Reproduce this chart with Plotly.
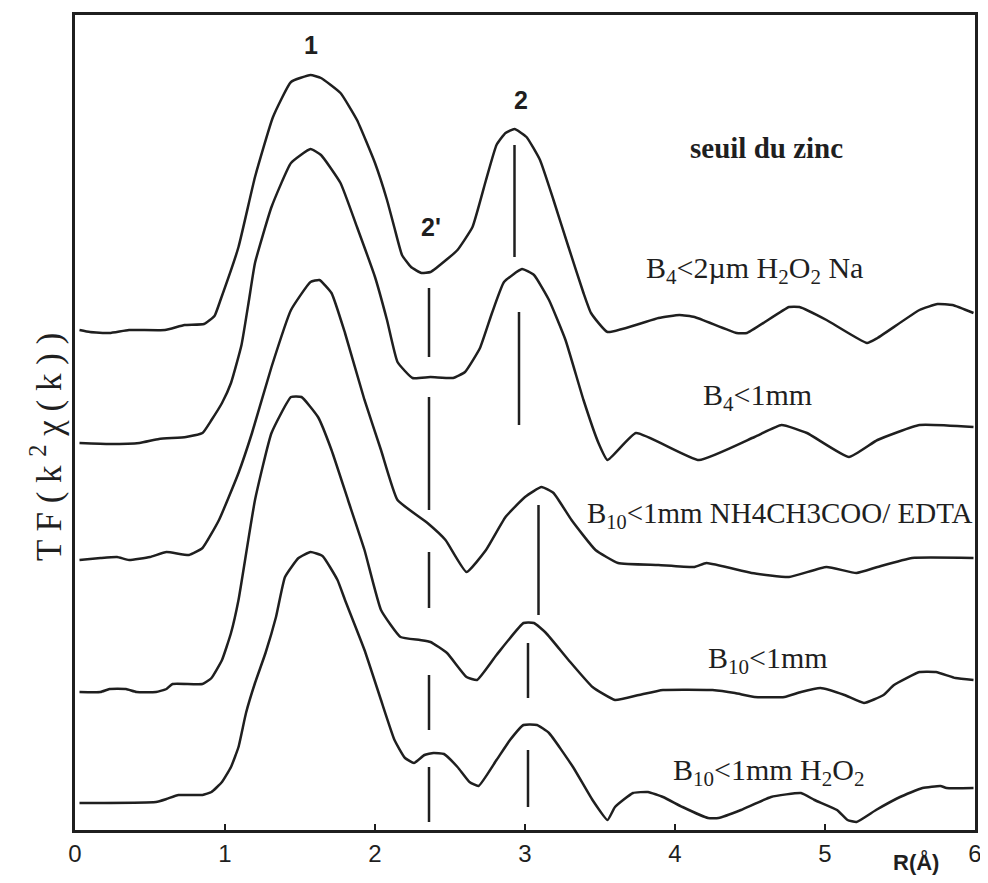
import plotly.graph_objects as go

# ---- Data (R in Å, TF in arbitrary stacked units) ----
r_b4_h2o2_na = [0.03, 0.10, 0.23, 0.36, 0.60, 0.73, 0.86, 0.93, 0.97, 1.09, 1.20, 1.32, 1.44, 1.57, 1.64,
                1.77, 1.88, 2.00, 2.08, 2.13, 2.18, 2.24, 2.31, 2.37, 2.49, 2.55, 2.65, 2.74, 2.81, 2.87,
                2.93, 3.01, 3.10, 3.19, 3.29, 3.39, 3.44, 3.55, 3.89, 4.03, 4.13, 4.41, 4.48, 4.76, 4.83,
                5.01, 5.28, 5.35, 5.63, 5.75, 5.85, 5.99]
tf_b4_h2o2_na = [50.0, 49.8, 49.7, 50.0, 50.0, 50.5, 50.6, 51.4, 53.0, 58.3, 65.3, 71.3, 74.8, 75.5, 75.2,
                 73.7, 71.0, 66.7, 63.0, 60.2, 57.5, 56.3, 55.7, 55.8, 57.2, 58.0, 60.3, 65.0, 68.5, 69.7,
                 70.1, 69.3, 67.0, 63.0, 58.3, 53.7, 51.7, 49.8, 51.2, 51.5, 51.3, 49.7, 49.7, 52.3, 52.3,
                 51.0, 48.7, 49.2, 52.0, 52.6, 52.5, 51.7]

r_b4_1mm = [0.03, 0.23, 0.43, 0.56, 0.74, 0.85, 0.91, 0.98, 1.04, 1.11, 1.16, 1.20, 1.31, 1.44, 1.57,
            1.64, 1.77, 1.88, 2.00, 2.08, 2.15, 2.25, 2.37, 2.52, 2.60, 2.70, 2.78, 2.86, 2.98, 3.06,
            3.16, 3.27, 3.39, 3.49, 3.55, 3.74, 4.16, 4.53, 4.71, 4.88, 5.16, 5.35, 5.63, 5.99]
tf_b4_1mm = [38.7, 38.6, 38.7, 39.1, 39.3, 39.7, 41.0, 42.7, 44.7, 48.5, 53.0, 56.7, 62.3, 66.7, 68.1,
             67.5, 64.7, 60.3, 55.3, 51.0, 46.8, 45.2, 45.3, 45.2, 45.8, 48.2, 51.7, 54.8, 56.1, 55.5,
             53.0, 49.0, 43.0, 38.7, 37.0, 39.7, 37.0, 39.3, 40.5, 39.7, 37.3, 39.0, 40.5, 40.3]

r_b10_edta = [0.03, 0.17, 0.28, 0.36, 0.50, 0.61, 0.76, 0.85, 0.96, 1.09, 1.18, 1.31, 1.44, 1.57, 1.63,
              1.71, 1.80, 1.93, 2.04, 2.15, 2.35, 2.47, 2.61, 2.74, 2.87, 3.00, 3.11, 3.19, 3.31, 3.47,
              3.62, 3.89, 4.13, 4.21, 4.51, 4.76, 5.01, 5.21, 5.35, 5.58, 5.99]
tf_b10_edta = [27.0, 27.2, 27.3, 27.0, 27.3, 27.8, 27.5, 28.2, 31.0, 35.7, 39.7, 46.3, 52.0, 54.8, 55.0,
               53.7, 49.7, 43.0, 38.0, 33.0, 30.7, 29.0, 25.8, 28.0, 31.3, 33.3, 34.3, 33.7, 31.0, 28.0,
               26.7, 26.5, 26.3, 26.7, 25.7, 25.3, 26.3, 25.7, 26.3, 27.2, 27.2]

r_b10_1mm = [0.03, 0.17, 0.23, 0.34, 0.41, 0.54, 0.61, 0.65, 0.85, 0.91, 0.98, 1.04, 1.09, 1.20, 1.31,
             1.44, 1.51, 1.62, 1.71, 1.82, 1.93, 2.04, 2.17, 2.30, 2.37, 2.48, 2.61, 2.68, 2.81, 2.99,
             3.06, 3.14, 3.29, 3.45, 3.60, 3.76, 3.92, 4.25, 4.40, 4.53, 4.73, 4.84, 4.97, 5.13, 5.26,
             5.39, 5.46, 5.63, 5.74, 5.87, 5.99]
tf_b10_1mm = [13.8, 13.8, 14.1, 14.1, 13.8, 13.8, 14.1, 14.6, 14.6, 15.2, 17.0, 19.7, 23.0, 33.0, 39.7,
              43.3, 43.3, 41.3, 38.0, 33.0, 28.0, 22.0, 19.3, 19.0, 18.8, 17.7, 15.3, 15.0, 17.5, 20.7,
              20.7, 19.7, 17.0, 14.3, 13.0, 13.5, 14.0, 14.0, 13.7, 13.3, 13.3, 13.8, 14.2, 13.5, 12.7,
              13.5, 14.5, 15.8, 15.8, 15.2, 15.0]

r_b10_h2o2 = [0.03, 0.54, 0.61, 0.69, 0.85, 0.91, 0.98, 1.04, 1.09, 1.14, 1.20, 1.27, 1.34, 1.40, 1.49,
              1.57, 1.65, 1.75, 1.80, 1.93, 2.04, 2.13, 2.20, 2.26, 2.33, 2.39, 2.46, 2.55, 2.63, 2.69,
              2.81, 2.90, 2.99, 3.08, 3.16, 3.32, 3.45, 3.55, 3.60, 3.72, 3.82, 3.92, 4.05, 4.22, 4.29,
              4.44, 4.64, 4.84, 4.93, 5.08, 5.15, 5.21, 5.34, 5.50, 5.65, 5.77, 5.81, 5.99]
tf_b10_h2o2 = [2.7, 2.8, 3.1, 3.5, 3.5, 3.8, 4.8, 6.3, 8.3, 11.7, 14.7, 17.7, 21.3, 25.3, 27.2,
               27.8, 27.4, 25.0, 23.0, 18.0, 13.0, 9.0, 7.2, 6.7, 7.5, 7.7, 7.6, 6.3, 4.8, 4.4,
               7.0, 9.0, 10.5, 10.5, 9.7, 6.3, 3.0, 1.0, 2.3, 3.7, 3.8, 3.3, 2.3, 1.2, 1.2,
               2.0, 3.3, 3.7, 3.0, 2.0, 1.0, 0.8, 2.0, 3.3, 4.2, 4.4, 4.2, 4.2]

# Peak-position marker lines
dash_r = 2.36
dash_segments = [(54.2, 47.3), (43.3, 32.0), (27.8, 22.2), (15.5, 10.0), (6.3, 0.8)]
solid_r = [2.93, 2.96, 3.09, 3.02, 3.02]
solid_segments = [(68.5, 57.3), (51.8, 40.5), (32.5, 21.5), (18.7, 13.2), (8.0, 2.3)]

x_ticks = [0, 1, 2, 3, 4, 5, 6]

INK = "#1f1f1f"
SERIF = "Liberation Serif, Times New Roman, serif"
SANS = "Liberation Sans, Arial, sans-serif"

fig = go.Figure()

curves = [
    (r_b4_h2o2_na, tf_b4_h2o2_na, "B4<2µm H2O2 Na"),
    (r_b4_1mm, tf_b4_1mm, "B4<1mm"),
    (r_b10_edta, tf_b10_edta, "B10<1mm NH4CH3COO/EDTA"),
    (r_b10_1mm, tf_b10_1mm, "B10<1mm"),
    (r_b10_h2o2, tf_b10_h2o2, "B10<1mm H2O2"),
]
for xs, ys, name in curves:
    fig.add_trace(go.Scatter(x=xs, y=ys, mode="lines", name=name,
                             line=dict(color=INK, width=2.5, shape="spline", smoothing=0.4),
                             showlegend=False, hoverinfo="skip"))

# dashed marker (drawn as separate dashes)
dx, dy = [], []
for a, b in dash_segments:
    dx += [dash_r, dash_r, None]
    dy += [a, b, None]
fig.add_trace(go.Scatter(x=dx, y=dy, mode="lines", line=dict(color=INK, width=2.5),
                         showlegend=False, hoverinfo="skip"))

sx, sy = [], []
for r, (a, b) in zip(solid_r, solid_segments):
    sx += [r, r, None]
    sy += [a, b, None]
fig.add_trace(go.Scatter(x=sx, y=sy, mode="lines", line=dict(color=INK, width=2.5),
                         showlegend=False, hoverinfo="skip"))

def ann(text, x, y, font, size, bold=False, **kw):
    fig.add_annotation(text=f"<b>{text}</b>" if bold else text, x=x, y=y, xref="x", yref="y",
                       showarrow=False, font=dict(family=font, size=size, color=INK), **kw)

ann("1", 1.57, 78.5, SANS, 25, bold=True)
ann("2", 2.97, 73.0, SANS, 25, bold=True)
ann("2'", 2.37, 60.3, SANS, 25, bold=True)
ann("seuil du zinc", 4.61, 68.2, SERIF, 29, bold=True)
ann("B<sub>4</sub>&lt;2µm H<sub>2</sub>O<sub>2</sub> Na", 4.53, 56.0, SERIF, 30)
ann("B<sub>4</sub>&lt;1mm", 4.55, 43.3, SERIF, 30)
ann("B<sub>10</sub>&lt;1mm NH4CH3COO/ EDTA", 6.0, 31.5, SERIF, 29, xanchor="right")
ann("B<sub>10</sub>&lt;1mm", 4.62, 17.0, SERIF, 30)
ann("B<sub>10</sub>&lt;1mm H<sub>2</sub>O<sub>2</sub>", 4.62, 5.8, SERIF, 30)

fig.add_annotation(text="T F ( k <sup>2</sup> χ ( k ) )", xref="paper", yref="paper",
                   x=-0.031, y=0.47, textangle=-90, showarrow=False,
                   xanchor="center", yanchor="middle",
                   font=dict(family=SERIF, size=35, color=INK))
fig.add_annotation(text="<b>R(Å)</b>", xref="paper", yref="paper", x=0.934, y=-0.039,
                   showarrow=False, xanchor="center", yanchor="middle",
                   font=dict(family=SANS, size=22, color=INK))

# page body adds an 8 px margin; figure sized so the plot frame lands where the reference has it
fig.update_layout(
    width=978, height=867,
    margin=dict(l=67, r=4, t=7, b=45),
    plot_bgcolor="white", paper_bgcolor="white",
    xaxis=dict(range=[0, 6], tickvals=x_ticks, ticktext=[str(t) for t in x_ticks],
               showline=True, mirror=True, linecolor=INK, linewidth=2.5,
               ticks="inside", ticklen=6, tickwidth=2, tickcolor=INK,
               tickfont=dict(family=SANS, size=24, color=INK),
               showgrid=False, zeroline=False),
    yaxis=dict(range=[0, 81.5], showline=True, mirror=True, linecolor=INK, linewidth=2.5,
               showticklabels=False, ticks="", showgrid=False, zeroline=False),
)

fig.write_html("out.html")
